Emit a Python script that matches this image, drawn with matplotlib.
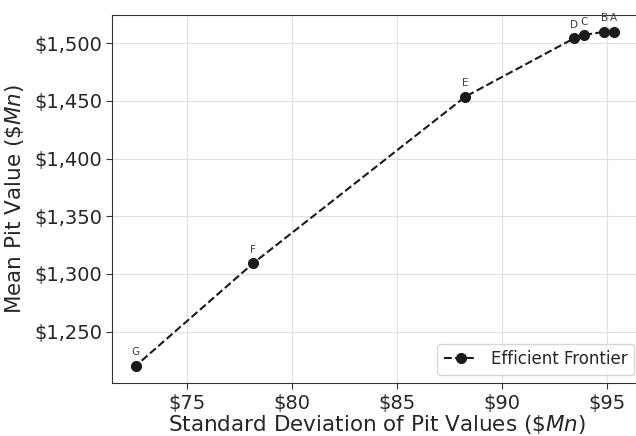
import matplotlib
matplotlib.use("Agg")
import matplotlib.pyplot as plt
import matplotlib.ticker as mticker
import seaborn as sns

# efficient frontier portfolios
labels = ["A", "B", "C", "D", "E", "F", "G"]
std_dev = [95.31, 94.84, 93.87, 93.40, 88.24, 78.16, 72.58]
mean_val = [1509.8, 1509.8, 1506.9, 1504.0, 1453.5, 1309.3, 1220.5]

sns.set_style("whitegrid", {"axes.edgecolor": ".2", "grid.color": ".88",
                            "xtick.bottom": True, "ytick.left": True})

fig = plt.figure(figsize=(6.36, 4.36), dpi=100)
ax = fig.add_axes([112.3 / 636, 1 - 383.3 / 436, 1 - 112.3 / 636 + 0.01, (383.3 - 15) / 436])

ax.plot(std_dev, mean_val, "--o", color="0.1", markersize=7, linewidth=1.5,
        label="Efficient Frontier")

for lab, x, y in zip(labels, std_dev, mean_val):
    ax.annotate(lab, (x, y), xytext=(0, 6), textcoords="offset points",
                ha="center", va="bottom", fontsize=7.5, color="0.25")

ax.set_xlim(71.46, 96.66)
ax.set_ylim(1205.3, 1524.3)
ax.xaxis.set_major_locator(mticker.MultipleLocator(5))
ax.yaxis.set_major_locator(mticker.MultipleLocator(50))
ax.xaxis.set_major_formatter(mticker.StrMethodFormatter("${x:,.0f}"))
ax.yaxis.set_major_formatter(mticker.StrMethodFormatter("${x:,.0f}"))
ax.tick_params(labelsize=14, length=4, color=".2", labelcolor=".15")

ax.set_xlabel("Standard Deviation of Pit Values ($\\$Mn$)", fontsize=15.5, color=".15", labelpad=0)
ax.set_ylabel("Mean Pit Value ($\\$Mn$)", fontsize=15.5, color=".15", labelpad=6)
ax.spines["right"].set_visible(False)

ax.legend(loc="lower right", fontsize=12)

fig.savefig("out.png", dpi=100)
